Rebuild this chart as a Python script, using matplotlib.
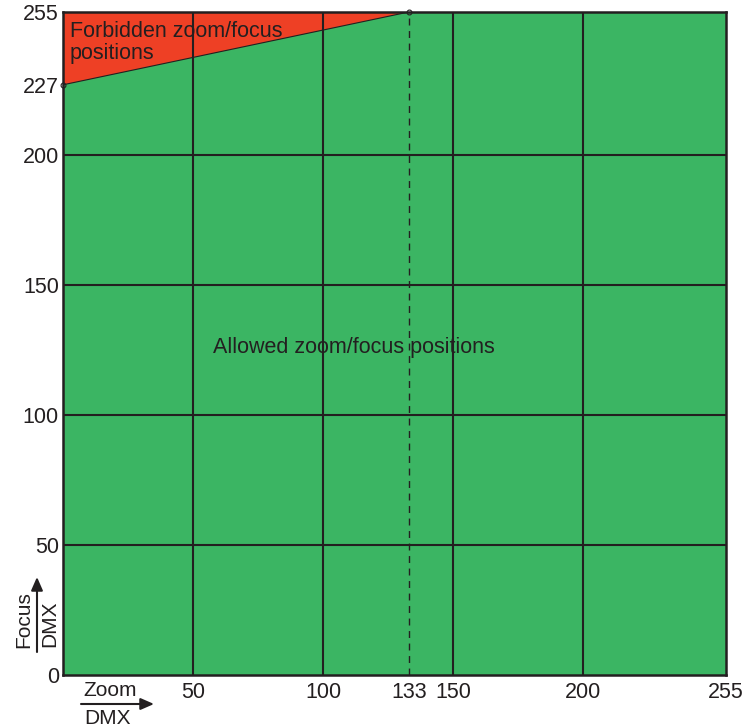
import matplotlib
matplotlib.use("Agg")
import matplotlib.pyplot as plt
from matplotlib.patches import Polygon, Rectangle

# Zoom/focus DMX limits
dmx_max = 255
grid_ticks = [50, 100, 150, 200]
x_tick_labels = [0, 50, 100, 133, 150, 200, 255]
y_tick_labels = [0, 50, 100, 150, 200, 227, 255]
limit_zoom = [0, 133]      # zoom DMX where the forbidden edge starts/ends
limit_focus = [227, 255]   # focus DMX at those zoom values

green = "#3bb563"
red = "#ee4025"
ink = "#231f20"

plt.rcParams['font.family'] = ['Liberation Sans', 'DejaVu Sans']

fig = plt.figure(figsize=(7.47, 7.28), dpi=100)
ax = fig.add_axes([63 / 747, 1 - 675 / 728, 663 / 747, 663 / 728])
ax.set_xlim(0, dmx_max)
ax.set_ylim(0, dmx_max)

ax.add_patch(Rectangle((0, 0), dmx_max, dmx_max, facecolor=green, edgecolor="none", zorder=0))
tri = [(limit_zoom[0], limit_focus[0]), (limit_zoom[1], limit_focus[1]), (limit_zoom[0], dmx_max)]
ax.add_patch(Polygon(tri, closed=True, facecolor=red, edgecolor=ink, linewidth=0.8, zorder=1))

ax.text(2.5, 251.5, "Forbidden zoom/focus\npositions", fontsize=15.5, color=ink,
        va="top", ha="left", linespacing=1.05, zorder=2)
ax.text(57.5, 126, "Allowed zoom/focus positions", fontsize=15.5, color=ink,
        va="center", ha="left", zorder=2)

for g in grid_ticks:
    ax.axvline(g, color=ink, linewidth=1.5, zorder=3)
    ax.axhline(g, color=ink, linewidth=1.5, zorder=3)
ax.plot([limit_zoom[1], limit_zoom[1]], [0, dmx_max], color=ink, linewidth=1.0,
        linestyle=(0, (5, 4)), zorder=3)
ax.plot(limit_zoom, limit_focus, "o", markersize=3.5, markerfacecolor="none",
        markeredgecolor=ink, markeredgewidth=0.8, zorder=4, clip_on=False)

ax.set_xticks(x_tick_labels[1:])
ax.set_xticklabels([str(v) for v in x_tick_labels[1:]])
ax.set_yticks(y_tick_labels)
ax.set_yticklabels([str(v) for v in y_tick_labels])
ax.tick_params(length=0, labelsize=15.5, colors=ink)
ax.tick_params(axis="x", pad=5)
ax.tick_params(axis="y", pad=3)
for s in ax.spines.values():
    s.set_color(ink)
    s.set_linewidth(1.8)
    s.set_zorder(5)

# axis name labels with arrows
fig.text(24 / 747, 1 - 620 / 728, "Focus", rotation=90, fontsize=15, color=ink,
         ha="center", va="center")
fig.text(50 / 747, 1 - 624 / 728, "DMX", rotation=90, fontsize=15, color=ink,
         ha="center", va="center")
ax.annotate("", xy=(37 / 747, 1 - 577 / 728), xytext=(37 / 747, 1 - 652 / 728),
            xycoords="figure fraction",
            arrowprops=dict(arrowstyle="-|>,head_length=0.8,head_width=0.35",
                            color=ink, linewidth=1.5, shrinkA=0, shrinkB=0),
            annotation_clip=False)
fig.text(110 / 747, 1 - 691 / 728, "Zoom", fontsize=15, color=ink, ha="center", va="center")
fig.text(107 / 747, 1 - 719 / 728, "DMX", fontsize=15, color=ink, ha="center", va="center")
ax.annotate("", xy=(154 / 747, 1 - 704 / 728), xytext=(81 / 747, 1 - 704 / 728),
            xycoords="figure fraction",
            arrowprops=dict(arrowstyle="-|>,head_length=0.8,head_width=0.35",
                            color=ink, linewidth=1.5, shrinkA=0, shrinkB=0),
            annotation_clip=False)

fig.savefig("out.png", dpi=100, facecolor="white")
